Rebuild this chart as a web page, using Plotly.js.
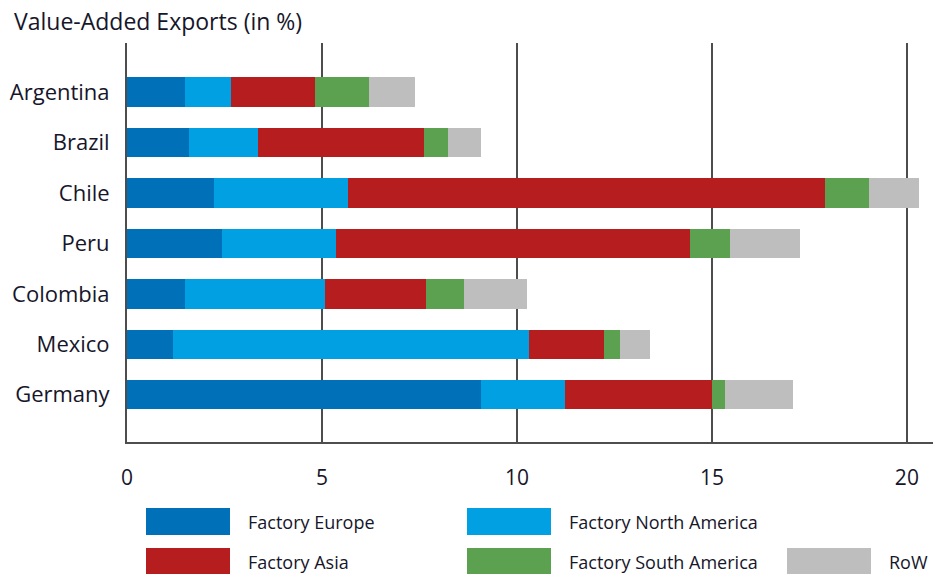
<!DOCTYPE html>
<html>
<head>
<meta charset="utf-8">
<script src="https://cdn.plot.ly/plotly-3.0.1.min.js"></script>
<style>html,body{margin:0;padding:0;background:#fff;}#chart{width:933px;height:574px;}</style>
</head>
<body>
<div id="chart"></div>
<script>
// Categories listed bottom to top
const countries = ["Germany", "Mexico", "Colombia", "Peru", "Chile", "Brazil", "Argentina"];
const seriesNames = ["Factory Europe", "Factory North America", "Factory Asia", "Factory South America", "RoW"];
const factoryEurope       = [9.08, 1.17, 1.49, 2.44, 2.22, 1.60, 1.48];
const factoryNorthAmerica = [2.14, 9.15, 3.59, 2.93, 3.45, 1.77, 1.19];
const factoryAsia         = [3.78, 1.90, 2.58, 9.06, 12.23, 4.25, 2.16];
const factorySouthAmerica = [0.34, 0.43, 0.99, 1.04, 1.14, 0.62, 1.37];
const restOfWorld         = [1.74, 0.76, 1.62, 1.78, 1.26, 0.84, 1.19];
const xTicks = [0, 5, 10, 15, 20];
const colors = ["#0071b9", "#00a0e2", "#b51d1e", "#5ba150", "#bebebe"];

const seriesValues = [factoryEurope, factoryNorthAmerica, factoryAsia, factorySouthAmerica, restOfWorld];
const FONT = "Open Sans, sans-serif";
const TXT = "#16162a";

const traces = seriesValues.map((vals, i) => ({
  type: "bar", orientation: "h", name: seriesNames[i],
  x: vals, y: countries,
  marker: {color: colors[i], line: {width: 0}},
  showlegend: false, hoverinfo: "x+name"
}));

// Manual legend (large swatches)
const L = 127, W = 806, T = 43, H = 399;
const px2x = p => (p - L) / W;
const py2y = p => (T + H - p) / H;
const legendPos = [
  {sx: 146, sy: 508}, {sx: 467, sy: 508},
  {sx: 146, sy: 548}, {sx: 467, sy: 548}, {sx: 787, sy: 548}
];
const shapes = [], annotations = [];
legendPos.forEach((p, i) => {
  shapes.push({type: "rect", xref: "paper", yref: "paper",
    x0: px2x(p.sx), x1: px2x(p.sx + 84), y0: py2y(p.sy + 27), y1: py2y(p.sy),
    fillcolor: colors[i], line: {width: 0}, layer: "above"});
  annotations.push({xref: "paper", yref: "paper", x: px2x(p.sx + 100), y: py2y(p.sy + 13.5),
    xanchor: "left", yanchor: "middle", showarrow: false, text: seriesNames[i],
    font: {family: FONT, size: 18, color: TXT}});
});

const layout = {
  width: 933, height: 574,
  margin: {l: L, r: 0, t: T, b: 574 - T - H, pad: 0},
  paper_bgcolor: "#fff", plot_bgcolor: "#fff",
  barmode: "stack", bargap: 0.415,
  title: {text: "Value-Added Exports (in %)", x: 14/933, xanchor: "left", xref: "container",
          y: 1 - 22/574, yanchor: "middle", yref: "container",
          font: {family: FONT, size: 23, color: TXT}},
  xaxis: {range: [0, 20.67], tickvals: xTicks, ticktext: xTicks.map(String),
          showgrid: true, gridcolor: "#4d4d4d", gridwidth: 2,
          showline: true, linecolor: "#4d4d4d", linewidth: 2,
          zeroline: false, ticks: "", ticklabelstandoff: 16,
          tickfont: {family: FONT, size: 21, color: TXT}, fixedrange: true},
  yaxis: {type: "category", categoryorder: "array", categoryarray: countries,
          range: [-0.937, 6.971], showgrid: false, zeroline: false,
          showline: true, linecolor: "#4d4d4d", linewidth: 2,
          ticks: "", ticklabelstandoff: 11,
          tickfont: {family: FONT, size: 22, color: TXT}, fixedrange: true},
  shapes: shapes, annotations: annotations,
  showlegend: false
};

Plotly.newPlot("chart", traces, layout, {displayModeBar: false, staticPlot: true});
</script>
</body>
</html>
